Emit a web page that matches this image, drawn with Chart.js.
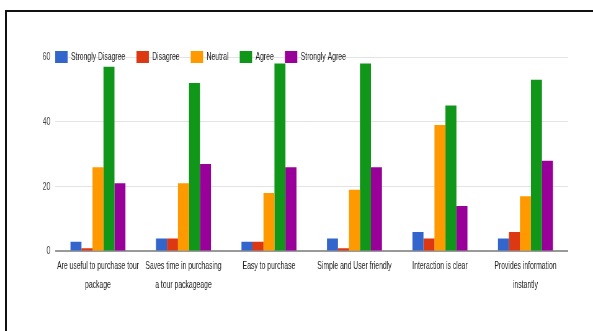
<!DOCTYPE html>
<html>
<head>
<meta charset="utf-8">
<script src="https://cdn.jsdelivr.net/npm/chart.js@4"></script>
<style>
    body { margin: 0; background: #fff; }
    #wrap { position: relative; width: 593px; height: 331px; overflow: hidden; }
    #frame {
        position: absolute; left: 5px; top: 10px; right: 0; bottom: 0;
        border-top: 2px solid #111; border-left: 2px solid #111;
    }
    #survey { position: absolute; left: 0; top: 0; }
</style>
</head>
<body>
<div id="wrap">
    <div id="frame"></div>
    <!-- drawn wide, then squeezed to 593px like the exported chart -->
    <canvas id="survey" width="956" height="331" style="width:593px;height:331px"></canvas>
</div>
<script>
const categories = [
    ['Are useful to purchase tour', 'package'],
    ['Saves time in purchasing', 'a tour packageage'],
    'Easy to purchase',
    'Simple and User friendly',
    'Interaction is clear',
    ['Provides information', 'instantly']
];

const stronglyDisagree = [3, 4, 3, 4, 6, 4];
const disagree         = [1, 4, 3, 1, 4, 6];
const neutral          = [26, 21, 18, 19, 39, 17];
const agree            = [57, 52, 58, 58, 45, 53];
const stronglyAgree    = [21, 27, 26, 26, 14, 28];

const yTicks = [0, 20, 40, 60];

Chart.defaults.font.family = "'Liberation Sans', Arial, sans-serif";
Chart.defaults.font.size = 11;

function series(label, values, color)
{
    return {
        label: label,
        data: values,
        backgroundColor: color,
        borderColor: color,
        borderWidth: 0,
        categoryPercentage: 0.643,
        barPercentage: 1
    };
}

// move the legend row down onto the top gridline, starting at the plot's left edge
const legendOnGrid = {
    id: 'legendOnGrid',
    afterLayout(chart)
    {
        const lg = chart.legend;
        const area = chart.chartArea;
        const pad = lg.options.labels.padding;
        const h = lg.height;
        lg.left = area.left - pad;
        lg.right = area.right;
        lg.top = area.top - pad - 6;
        lg.bottom = lg.top + h;
    }
};

let ctx = document.getElementById('survey').getContext('2d');

new Chart(ctx, {
    type: 'bar',
    data: {
        labels: categories,
        datasets: [
            series('Strongly Disagree', stronglyDisagree, '#3366cc'),
            series('Disagree', disagree, '#dc3912'),
            series('Neutral', neutral, '#ff9900'),
            series('Agree', agree, '#109618'),
            series('Strongly Agree', stronglyAgree, '#990099')
        ]
    },
    options: {
        responsive: false,
        animation: false,
        devicePixelRatio: 1,
        layout: {
            padding: { left: 49, right: 40, top: 17, bottom: 39.5 }
        },
        plugins: {
            legend: {
                position: 'top',
                align: 'start',
                labels: {
                    boxWidth: 20,
                    boxHeight: 12,
                    padding: 18,
                    color: '#222',
                    font: { size: 11 }
                }
            },
            tooltip: { enabled: false }
        },
        scales: {
            x: {
                grid: { display: false },
                border: { display: false },
                ticks: {
                    color: '#222',
                    maxRotation: 0,
                    autoSkip: false,
                    padding: -2,
                    font: { size: 11, lineHeight: 1.64 }
                }
            },
            y: {
                min: yTicks[0],
                max: yTicks[yTicks.length - 1],
                afterBuildTicks: function (axis)
                {
                    axis.ticks = yTicks.map(v => ({ value: v }));
                },
                afterFit: function (axis)
                {
                    axis.width = 40;
                },
                border: { display: false },
                grid: {
                    drawTicks: false,
                    color: c => c.tick.value === 0 ? '#999' : '#e3e3e3',
                    lineWidth: c => c.tick.value === 0 ? 2 : 1
                },
                ticks: {
                    color: '#444',
                    padding: 8,
                    font: { size: 11 }
                }
            }
        }
    },
    plugins: [legendOnGrid]
});
</script>
</body>
</html>
